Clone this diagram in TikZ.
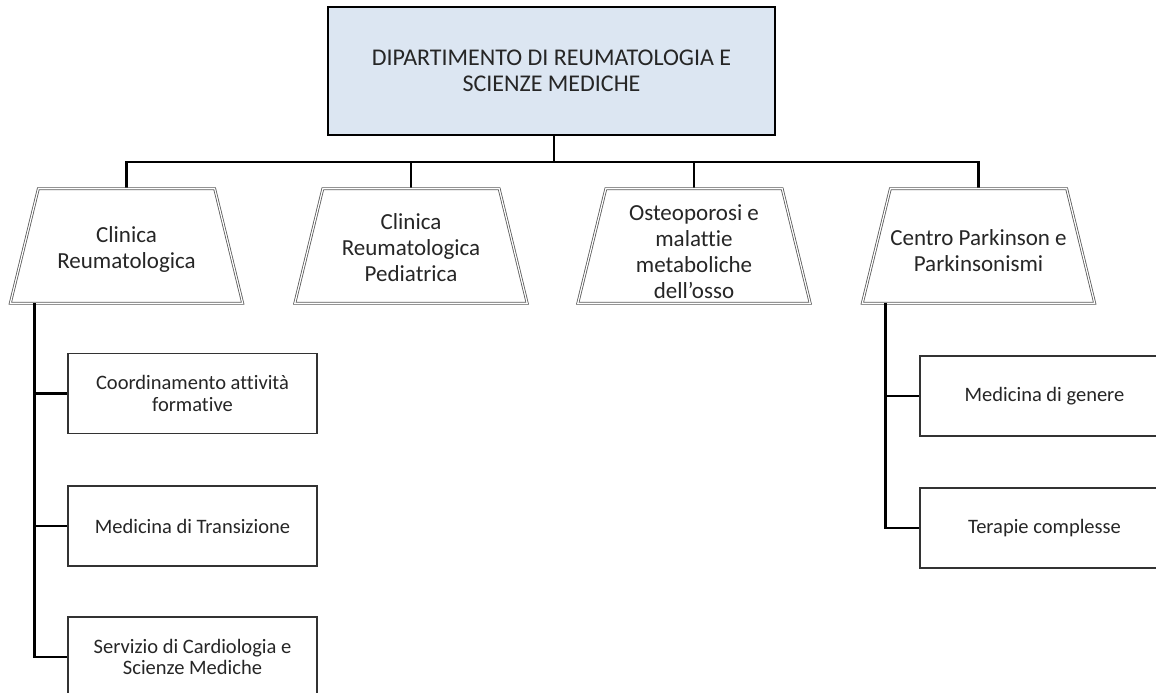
\documentclass[tikz,border=0pt]{standalone}
\usepackage{fontspec}
\setmainfont{Carlito}[Ligatures=NoCommon]
\definecolor{topfill}{RGB}{220,230,242}
\definecolor{txt}{RGB}{38,38,38}
\definecolor{trapgray}{RGB}{90,90,90}
\begin{document}
\begin{tikzpicture}[x=1pt,y=-1pt,
  topbox/.style={draw=black,line width=2.8pt,fill=topfill,minimum width=447pt,minimum height=128pt,
    text=txt,align=center,font=\fontsize{24}{26}\selectfont,inner sep=0pt},
  trapnode/.style={minimum width=232pt,minimum height=114pt,inner sep=0pt},
  traptext/.style={text=txt,align=center,font=\fontsize{23}{26}\selectfont,inner sep=0pt},
  trapline/.style={draw=trapgray,line width=0.8pt,double=white,double distance=1.2pt,fill=white},
  childbox/.style={draw=black!80,line width=1.3pt,fill=white,minimum width=249pt,minimum height=80pt,
    text=txt,align=center,font=\fontsize{20.5}{21.5}\selectfont,inner sep=0pt},
  conn/.style={draw=black,line width=2.8pt}]
\useasboundingbox (0,0) rectangle (1156,693);
\clip (0,0) rectangle (1156,693);

% top box
\node[topbox] (dip) at (551.5,71) {DIPARTIMENTO DI REUMATOLOGIA E\\SCIENZE MEDICHE};

% trapezoid frames (invisible placeholder nodes)
\node[trapnode] (c1) at (126.5,246) {};
\node[trapnode] (c2) at (411,246) {};
\node[trapnode] (c3) at (694,246) {};
\node[trapnode] (c4) at (978.5,246) {};

% connectors from top
\coordinate (bar) at (554,162);
\draw[conn] (dip.south -| bar) -- (bar);
\draw[conn] (c1.north) |- (bar) -| (c4.north);
\draw[conn] (bar -| c2.north) -- (c2.north);
\draw[conn] (bar -| c3.north) -- (c3.north);

% trapezoids
\foreach \n in {c1,c2,c3,c4}{
  \draw[trapline] ([xshift=28pt]\n.north west) -- ([xshift=-28pt]\n.north east)
     -- (\n.south east) -- (\n.south west) -- cycle;
}
\node[traptext] (t1) at (126.5,249) {Clinica\\Reumatologica};
\node[traptext] (t2) at (411,248) {Clinica\\Reumatologica\\Pediatrica};
\node[traptext] (t3) at (694,252) {Osteoporosi e\\malattie\\metaboliche\\dell’osso};
\node[traptext] (t4) at (978.5,251) {Centro Parkinson e\\Parkinsonismi};

% children
\node[childbox] (k1) at (192.5,393.5) {Coordinamento attività\\formative};
\node[childbox] (k2) at (192.5,526) {Medicina di Transizione};
\node[childbox] (k3) at (192.5,657) {Servizio di Cardiologia e\\Scienze Mediche};
\node[childbox] (r1) at (1044.5,396) {Medicina di genere};
\node[childbox] (r2) at (1044.5,528) {Terapie complesse};

\coordinate (d1) at ([xshift=24pt]c1.south west);
\coordinate (d4) at ([xshift=23pt]c4.south west);
\draw[conn] (d1) |- (k3.west);
\draw[conn] (d1 |- k1.west) -- (k1.west);
\draw[conn] (d1 |- k2.west) -- (k2.west);
\draw[conn] (d4) |- (r2.west);
\draw[conn] (d4 |- r1.west) -- (r1.west);
\end{tikzpicture}
\end{document}
